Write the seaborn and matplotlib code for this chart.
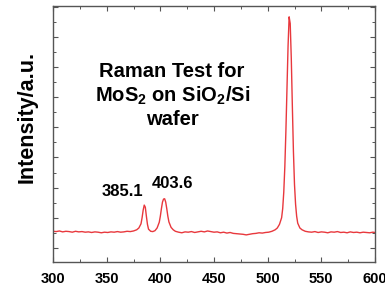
import numpy as np
import pandas as pd
import seaborn as sns
import matplotlib.pyplot as plt
from matplotlib.ticker import MultipleLocator

# Raman shift (cm^-1) and intensity (a.u.)
shift = [300, 303, 306, 309, 312, 315, 318, 321, 324, 327, 330, 333, 336, 339, 342,
         345, 348, 351, 354, 357, 360, 363, 366, 369, 372, 375, 378, 380, 382, 383,
         384, 385, 386, 387, 388, 389, 391, 393, 395, 397, 399, 400, 401, 402, 403,
         404, 405, 406, 407, 408, 410, 412, 414, 417, 420, 423, 426, 429, 432, 435,
         438, 441, 444, 447, 450, 453, 456, 459, 462, 465, 468, 471, 474, 477, 480,
         483, 486, 489, 492, 495, 498, 501, 504, 507, 509, 511, 513, 514, 515, 516,
         517, 518, 519, 520, 521, 522, 523, 524, 525, 526, 527, 528, 530, 532, 535,
         538, 541, 544, 547, 550, 553, 556, 559, 562, 565, 568, 571, 574, 577, 580,
         583, 586, 589, 592, 595, 598, 600]
intensity = [0.55, 0.54, 0.56, 0.53, 0.55, 0.54, 0.52, 0.55, 0.53, 0.54, 0.52, 0.53,
             0.51, 0.53, 0.52, 0.50, 0.52, 0.51, 0.53, 0.52, 0.54, 0.52, 0.53, 0.55,
             0.54, 0.56, 0.60, 0.66, 0.80, 1.00, 1.25, 1.42, 1.35, 1.05, 0.78, 0.62,
             0.55, 0.54, 0.57, 0.66, 0.85, 1.05, 1.30, 1.52, 1.62, 1.63, 1.52, 1.30,
             1.05, 0.86, 0.68, 0.60, 0.55, 0.52, 0.50, 0.53, 0.52, 0.54, 0.51, 0.53,
             0.55, 0.53, 0.56, 0.54, 0.52, 0.53, 0.50, 0.52, 0.49, 0.51, 0.48, 0.47,
             0.46, 0.45, 0.43, 0.45, 0.47, 0.48, 0.50, 0.49, 0.51, 0.52, 0.55, 0.60,
             0.66, 0.78, 1.00, 1.30, 1.85, 2.70, 3.90, 5.30, 6.70, 7.67, 7.45, 6.30,
             4.70, 3.20, 2.10, 1.45, 1.05, 0.82, 0.66, 0.60, 0.55, 0.53, 0.52, 0.54,
             0.51, 0.53, 0.52, 0.50, 0.53, 0.52, 0.54, 0.51, 0.52, 0.50, 0.53, 0.51,
             0.52, 0.50, 0.52, 0.51, 0.50, 0.52, 0.51]

peak_labels = ["385.1", "403.6"]

df = pd.DataFrame({"shift": shift, "intensity": intensity})

sns.set_style("ticks")
plt.rcParams["font.family"] = ["Liberation Sans", "DejaVu Sans"]
plt.rcParams["mathtext.fontset"] = "custom"
plt.rcParams["mathtext.rm"] = "Liberation Sans:bold"
plt.rcParams["mathtext.bf"] = "Liberation Sans:bold"
plt.rcParams["text.color"] = "black"

fig = plt.figure(figsize=(3.85, 2.85), dpi=100)
ax = fig.add_axes([53 / 385, 1 - 262 / 285, 322 / 385, 256 / 285])

sns.lineplot(data=df, x="shift", y="intensity", color="#e8383d", linewidth=1.0, ax=ax)

ax.set_xlim(300, 600)
ax.set_ylim(-0.47, 8.03)
ax.xaxis.set_major_locator(MultipleLocator(50))
ax.xaxis.set_minor_locator(MultipleLocator(25))
ax.yaxis.set_major_locator(MultipleLocator(1))
ax.yaxis.set_minor_locator(MultipleLocator(0.5))
ax.tick_params(axis="both", which="major", direction="in", top=True, right=True,
               length=3.5, width=0.8, color="#555555")
ax.tick_params(axis="both", which="minor", direction="in", top=True, right=True,
               length=2, width=0.7, color="#555555")
ax.tick_params(axis="y", which="both", labelleft=False)
ax.tick_params(axis="x", labelsize=10.5, pad=7, labelcolor="black")
for lab in ax.get_xticklabels():
    lab.set_fontweight("bold")
for sp in ax.spines.values():
    sp.set_color("#555555")
    sp.set_linewidth(1.0)

ax.set_xlabel("")
ax.set_ylabel("")
fig.text(27 / 385, 1 - 117 / 285, "Intensity/a.u.", rotation=90, ha="center",
         va="center", fontsize=15.5, fontweight="bold")

ax.text(411, 5.05, "Raman Test for\nMoS$_\\mathbf{2}$ on SiO$_\\mathbf{2}$/Si\nwafer",
        ha="center", va="center", fontsize=14.5, fontweight="bold", linespacing=1.2)

ax.text(364.5, 1.86, peak_labels[0], ha="center", va="center", fontsize=12, fontweight="bold")
ax.text(411, 2.13, peak_labels[1], ha="center", va="center", fontsize=12, fontweight="bold")

fig.savefig("out.png", dpi=100)
